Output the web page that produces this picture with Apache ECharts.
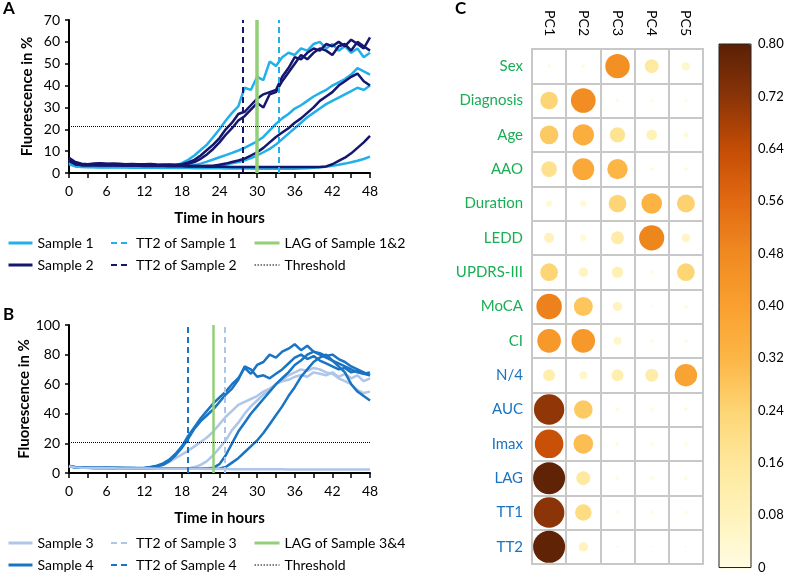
<!DOCTYPE html>
<html><head><meta charset="utf-8">
<script src="https://cdn.jsdelivr.net/npm/echarts@6/dist/echarts.min.js"></script>
<style>html,body{margin:0;padding:0;background:#fff}#c{width:797px;height:574px}</style>
</head><body><div id="c"></div>
<script>
// ---------- Panel A & B shared time axis ----------
const hours = [0,1,2,3,4,5,6,7,8,9,10,11,12,13,14,15,16,17,18,19,20,21,22,23,24,25,26,27,28,29,30,31,32,33,34,35,36,37,38,39,40,41,42,43,44,45,46,47,48];
const xTickLabels = [0,6,12,18,24,30,36,42,48];

// ---------- Panel A: Sample 1 (replicates) ----------
const s1a = [6,4,3.5,3.5,3.5,3.4,3.5,3.4,3.3,3.4, 3.3,3.2,3.3,3.2,3.2,3.1,3.2,3.5,4.5,6, 8,10.5,13,16.5,20,24,27.5,30.5,39,38, 44,42.5,51,49,53,55,54,57,56,59, 60,57,59,56,58,55,57,53,55];
const s1b = [5,3.5,3,3,3.1,3,3,3.1,3,3, 2.9,3,3,2.9,2.9,3,2.9,3,3,3.2, 3.6,4.3,5.2,6.2,7.2,8.2,9.2,10.3,11.5,13, 14.5,16.5,19.5,22.5,25,27,29.5,31,33,35, 36.5,38,40,41.5,43,45,48,46.5,45];
const s1c = [4.5,3.2,2.9,2.9,2.8,2.9,2.8,2.8,2.9,2.8, 2.8,2.7,2.8,2.8,2.7,2.7,2.8,2.7,2.7,2.8, 2.8,2.9,3,3.2,3.5,3.9,4.4,5,5.8,6.8, 8,9.5,11,13,15.5,18,20.5,23,25.5,27.5, 29.5,31.5,33,34.5,36,37.5,39,38,40];
const s1d = [4,3,2.7,2.6,2.6,2.5,2.6,2.5,2.5,2.5, 2.4,2.5,2.4,2.4,2.4,2.3,2.4,2.3,2.3,2.3, 2.2,2.3,2.2,2.2,2.2,2.1,2.2,2.1,2.1,2.1, 2,2.1,2,2,2,2.1,2,2.1,2.2,2.4, 2.6,2.9,3.3,3.8,4.3,4.9,5.6,6.4,7.5];
// ---------- Panel A: Sample 2 (replicates) ----------
const s2a = [7,5,4.2,4,4.3,4.5,4.2,4.4,4.2,4, 4.1,4,4,4.1,3.9,3.8,3.9,3.8,4,4.8, 6,8,10.5,13,16,20,23,27,28,31, 34,36,37,38,44,48,53,52,55,57, 56,59,58,60,58,61,59,57,62];
const s2b = [6,4.5,4,3.9,4,4.2,4.1,3.9,4,3.9, 3.8,3.9,3.8,3.8,3.7,3.8,3.7,3.7,3.8,4.2, 5,6.5,8.5,11,14,17.5,20.5,24,26,29, 32,30,36,37,42,46,50,54,52,55, 57,56,54,58,59,56,60,58,56];
const s2c = [5.5,4,3.6,3.5,3.6,3.5,3.6,3.5,3.4,3.5, 3.4,3.5,3.4,3.4,3.3,3.4,3.3,3.3,3.3,3.2, 3.3,3.2,3.3,3.3,3.8,4.3,5,5.7,6.6,8, 9.5,11.5,14,16.5,18.5,20.5,23,25,27.5,30, 33,35,37,40,42,44,45.5,42,40];
const s2d = [6,4,3.6,3.5,3.5,3.4,3.5,3.4,3.4,3.3, 3.3,3.3,3.2,3.3,3.2,3.2,3.1,3.1,3.1,3, 3,3,2.9,2.9,2.9,2.9,2.8,2.8,2.8,2.8, 2.8,2.8,2.8,2.8,2.8,2.8,2.8,2.8,2.8,2.8, 2.8,3,4,5.5,7,9,11.5,14,17];
const tt2Sample1 = 33.5, tt2Sample2 = 27.7, lagSample12 = 30, thresholdA = 21.5;

// ---------- Panel B: Sample 3 / Sample 4 ----------
const s3a = [4.5,3.8,3.6,3.5,3.5,3.4,3.4,3.3,3.3,3.3, 3.2,3.2,3.2,3.3,4,5.5,7.5,10,12.5,15, 18,21,24,28,33,38,42,46,48,50, 52,55,57,60,62,63,65,66,65,68, 67,66,68,65,67,64,66,62,64];
const s3b = [4.5,3.8,3.6,3.5,3.4,3.4,3.3,3.3,3.3,3.2, 3.2,3.2,3.1,3.1,3.1,3.1,3,3,3,3.1, 4,5.5,8,12,17,22,29,34,40,45, 49,53,56,60,63,66,68,70,69,71, 70,68,67,64,62,60,56,54,55];
const s3c = [4.5,3.8,3.5,3.4,3.3,3.3,3.2,3.2,3.1,3.1, 3.1,3,3,3,2.9,2.9,2.9,2.9,2.8,2.8, 2.8,2.8,2.7,2.7,2.7,2.7,2.6,2.6,2.6,2.6, 2.5,2.5,2.5,2.5,2.5,2.4,2.4,2.4,2.4,2.4, 2.4,2.3,2.3,2.3,2.3,2.3,2.3,2.3,2.3];
const s4a = [5,4,3.8,3.7,3.6,3.5,3.5,3.4,3.4,3.3, 3.3,3.3,3.4,4,5,6.5,9,13,18,25, 31,37,42,47,51,55,60,64,71,67, 73,75,80,78,82,84,87,83,86,82, 80,78,76,74,72,70,68,67,66];
const s4b = [4.5,3.9,3.7,3.6,3.5,3.5,3.4,3.4,3.3,3.3, 3.3,3.2,3.3,3.8,4.5,5.5,8,12,17,23, 30,35,39,43,48,53,57,63,72,70, 65,66,64,67,70,74,78,80,77,79, 76,74,72,70,71,68,69,67,68];
const s4c = [4.5,3.8,3.6,3.5,3.4,3.4,3.3,3.3,3.3,3.2, 3.2,3.2,3.1,3.1,3.1,3.1,3,3,3,3, 3,3,3,3.5,6,12,20,28,34,40, 45,50,55,60,64,68,73,76,80,82, 81,79,80,77,75,72,70,68,66];
const s4d = [4.5,3.8,3.6,3.5,3.4,3.4,3.3,3.3,3.2,3.2, 3.2,3.1,3.1,3.1,3,3,3,3,3,3, 3,2.9,2.9,2.9,3,4,7,10,14,18, 22,27,33,39,45,52,58,65,70,75, 78,80,76,72,68,60,55,52,49];
const tt2Sample3 = 24.9, tt2Sample4 = 19, lagSample34 = 23, thresholdB = 21;

// ---------- Panel C: correlation matrix ----------
const pcs = ['PC1','PC2','PC3','PC4','PC5'];
const vars = ['Sex','Diagnosis','Age','AAO','Duration','LEDD','UPDRS-III','MoCA','CI','N/4','AUC','Imax','LAG','TT1','TT2'];
const corrSex       = [0.01,0.01,0.46,0.15,0.05];
const corrDiagnosis = [0.24,0.47,0.01,0.01,0.01];
const corrAge       = [0.27,0.35,0.18,0.09,0.02];
const corrAAO       = [0.19,0.37,0.32,0.01,0.01];
const corrDuration  = [0.03,0.03,0.24,0.33,0.25];
const corrLEDD      = [0.08,0.03,0.13,0.49,0.06];
const corrUPDRS     = [0.24,0.07,0.10,0.01,0.24];
const corrMoCA      = [0.50,0.28,0.07,0.005,0.01];
const corrCI        = [0.43,0.43,0.05,0.01,0.01];
const corrN4        = [0.11,0.05,0.11,0.13,0.39];
const corrAUC       = [0.71,0.27,0.01,0.01,0.01];
const corrImax      = [0.63,0.30,0.01,0.01,0.01];
const corrLAG       = [0.79,0.15,0.01,0.01,0.01];
const corrTT1       = [0.72,0.21,0.01,0.01,0.01];
const corrTT2       = [0.79,0.07,0.005,0.005,0.005];
const colorbarColors = ['#fffce3','#fff3bb','#fee89c','#fdd575','#fcb646','#f9a030','#f08a20','#e26a12','#c44c05','#8a3407','#5a2005'];

const FONT = 'Lato';
const C1 = '#22b0ea', C2 = '#15166e', C3 = '#aec6e8', C4 = '#1a74c4', GREEN = '#92cf77';
const DASH = [6,4];

function lineSeries(name, vals, color, gi, width) {
  return {type:'line', name:name, xAxisIndex:gi, yAxisIndex:gi, symbol:'none', silent:true, animation:false,
    data: hours.map((h,i)=>[h, vals[i]]), lineStyle:{color:color, width:width}, itemStyle:{color:color}};
}
function vLine(name, x, color, gi, type, width) {
  return {type:'line', name:name, xAxisIndex:gi, yAxisIndex:gi, symbol:'none', data:[], silent:true, animation:false,
    lineStyle:{color:color, width:width, type:type}, itemStyle:{color:color},
    markLine:{silent:true, animation:false, symbol:['none','none'], label:{show:false}, lineStyle:{color:color, width:width, type:type}, data:[{xAxis:x}]}};
}
function hLine(name, y, gi) {
  return {type:'line', name:name, xAxisIndex:gi, yAxisIndex:gi, symbol:'none', data:[], silent:true, animation:false,
    lineStyle:{color:'#000', width:1, type:'dotted'}, itemStyle:{color:'#000'},
    markLine:{silent:true, animation:false, symbol:['none','none'], label:{show:false}, lineStyle:{color:'#000', width:1, type:'dotted'}, data:[{yAxis:y}]}};
}

const corrRows = [corrSex,corrDiagnosis,corrAge,corrAAO,corrDuration,corrLEDD,corrUPDRS,corrMoCA,corrCI,corrN4,corrAUC,corrImax,corrLAG,corrTT1,corrTT2];
const scatterData = [];
corrRows.forEach((row,r)=>row.forEach((v,c)=>scatterData.push([c, r, v])));

const series = [
  lineSeries('Sample 1', s1a, C1, 0, 2.5),
  lineSeries('Sample 1', s1b, C1, 0, 2.5),
  lineSeries('Sample 1', s1c, C1, 0, 2.5),
  lineSeries('Sample 1', s1d, C1, 0, 2.5),
  lineSeries('Sample 2', s2a, C2, 0, 2.5),
  lineSeries('Sample 2', s2b, C2, 0, 2.5),
  lineSeries('Sample 2', s2c, C2, 0, 2.5),
  lineSeries('Sample 2', s2d, C2, 0, 2.5),
  vLine('TT2 of Sample 1', tt2Sample1, C1, 0, DASH, 2),
  vLine('TT2 of Sample 2', tt2Sample2, C2, 0, DASH, 2),
  vLine('LAG of Sample 1&2', lagSample12, GREEN, 0, 'solid', 3.5),
  hLine('Threshold', thresholdA, 0),
  lineSeries('Sample 3', s3a, C3, 1, 2.5),
  lineSeries('Sample 3', s3b, C3, 1, 2.5),
  lineSeries('Sample 4', s4a, C4, 1, 2.5),
  lineSeries('Sample 4', s4b, C4, 1, 2.5),
  lineSeries('Sample 4', s4c, C4, 1, 2.5),
  lineSeries('Sample 4', s4d, C4, 1, 2.5),
  lineSeries('Sample 3', s3c, C3, 1, 2.5),
  vLine('TT2 of Sample 3', tt2Sample3, C3, 1, DASH, 2),
  vLine('TT2 of Sample 4', tt2Sample4, C4, 1, DASH, 2),
  vLine('LAG of Sample 3&4', lagSample34, GREEN, 1, 'solid', 2.5),
  hLine('Threshold', thresholdB, 1),
  {type:'scatter', xAxisIndex:2, yAxisIndex:2, data:scatterData, silent:true, animation:false,
   itemStyle:{opacity:1}, symbolSize: d => 36*Math.sqrt(d[2])}
];
const scatterIndex = series.length - 1;

function timeAxis(gi) {
  return {gridIndex:gi, type:'value', min:0, max:48, interval:3,
    axisLine:{show:true, onZero:false, lineStyle:{color:'#000', width:2}},
    axisTick:{show:true, length:5, lineStyle:{color:'#000', width:1.5}},
    axisLabel:{formatter: v => (xTickLabels.indexOf(v) >= 0 ? String(v) : ''), fontSize:14, color:'#000', margin:11, fontFamily:FONT},
    splitLine:{show:false},
    name:'Time in hours', nameLocation:'middle', nameGap:38,
    nameTextStyle:{fontSize:15, fontWeight:'bold', color:'#000', fontFamily:FONT}};
}
function fluoAxis(gi, max, interval) {
  return {gridIndex:gi, type:'value', min:0, max:max, interval:interval,
    axisLine:{show:true, lineStyle:{color:'#000', width:2}},
    axisTick:{show:true, length:4, lineStyle:{color:'#000', width:1.5}},
    axisLabel:{fontSize:14, color:'#000', margin:9, fontFamily:FONT},
    splitLine:{show:false},
    name:'Fluorescence in %', nameLocation:'middle', nameGap:34, nameRotate:90,
    nameTextStyle:{fontSize:15, fontWeight:'bold', color:'#000', fontFamily:FONT}};
}
function legendItem(name, lineStyle) { return {name:name, lineStyle:lineStyle}; }
function legend(left, top, itemWidth, items) {
  return {left:left, top:top, orient:'vertical', itemWidth:itemWidth, itemHeight:14, itemGap:8, padding:0,
    selectedMode:false, itemStyle:{opacity:0}, data:items, textStyle:{fontSize:14, color:'#000', fontFamily:FONT}};
}

const option = {
  backgroundColor:'#fff',
  animation:false,
  textStyle:{fontFamily:FONT},
  title:[
    {text:'A', left:3, top:0, padding:0, textStyle:{fontSize:17, fontWeight:'bold', color:'#000', fontFamily:FONT}},
    {text:'B', left:3, top:306, padding:0, textStyle:{fontSize:17, fontWeight:'bold', color:'#000', fontFamily:FONT}},
    {text:'C', left:455, top:0, padding:0, textStyle:{fontSize:17, fontWeight:'bold', color:'#000', fontFamily:FONT}}
  ],
  grid:[
    {left:69, top:20, width:301, height:153},
    {left:69, top:325, width:301, height:148},
    {left:532, top:49, width:171, height:515, show:true, borderColor:'#c8c8c8', borderWidth:2, backgroundColor:'transparent'},
    {left:719, top:44, width:32, height:525, show:true, borderColor:'#222', borderWidth:1, backgroundColor:'transparent', z:10}
  ],
  xAxis:[
    timeAxis(0), timeAxis(1),
    {gridIndex:2, type:'category', data:pcs, position:'top',
     axisLine:{show:false}, axisTick:{show:false},
     axisLabel:{rotate:90, fontSize:14, color:'#000', margin:13, fontFamily:FONT},
     splitLine:{show:true, interval:0, lineStyle:{color:'#c8c8c8', width:2}}},
    {gridIndex:3, type:'value', show:false, min:0, max:1}
  ],
  yAxis:[
    fluoAxis(0, 70, 10), fluoAxis(1, 100, 20),
    {gridIndex:2, type:'category', data:vars, inverse:true,
     axisLine:{show:false}, axisTick:{show:false},
     axisLabel:{fontSize:15, margin:9, fontFamily:FONT, color:(v, i) => (vars.indexOf(v) < 9 ? '#1aae54' : '#1a73c0')},
     splitLine:{show:true, interval:0, lineStyle:{color:'#c8c8c8', width:2}}},
    {gridIndex:3, type:'value', position:'right', min:0, max:0.8, interval:0.08,
     axisLine:{show:false}, axisTick:{show:true, inside:false, length:5, lineStyle:{color:'#222'}},
     axisLabel:{fontSize:13, color:'#000', margin:7, fontFamily:FONT, formatter: v => (v === 0 ? '0' : v.toFixed(2))},
     splitLine:{show:false}}
  ],
  visualMap:{type:'continuous', min:0, max:0.8, seriesIndex:scatterIndex, dimension:2, calculable:false,
    left:719, top:44, itemWidth:32, itemHeight:525, padding:0, hoverLink:false,
    inRange:{color:colorbarColors}},
  legend:[
    legend(7, 236, 24, [legendItem('Sample 1',{color:C1,width:3,type:'solid'}), legendItem('Sample 2',{color:C2,width:3,type:'solid'})]),
    legend(110, 236, 20, [legendItem('TT2 of Sample 1',{color:C1,width:2,type:[6,4]}), legendItem('TT2 of Sample 2',{color:C2,width:2,type:[6,4]})]),
    legend(253, 236, 25, [legendItem('LAG of Sample 1&2',{color:GREEN,width:3,type:'solid'}), legendItem('Threshold',{color:'#000',width:1,type:[1.5,1.5]})]),
    legend(7, 536, 24, [legendItem('Sample 3',{color:C3,width:3,type:'solid'}), legendItem('Sample 4',{color:C4,width:3,type:'solid'})]),
    legend(110, 536, 20, [legendItem('TT2 of Sample 3',{color:C3,width:2,type:[6,4]}), legendItem('TT2 of Sample 4',{color:C4,width:2,type:[6,4]})]),
    legend(253, 536, 25, [legendItem('LAG of Sample 3&4',{color:GREEN,width:3,type:'solid'}), legendItem('Threshold',{color:'#000',width:1,type:[1.5,1.5]})])
  ],
  series: series
};
const chart = echarts.init(document.getElementById('c'), null, {renderer:'canvas'});
chart.setOption(option);
</script>
</body></html>
